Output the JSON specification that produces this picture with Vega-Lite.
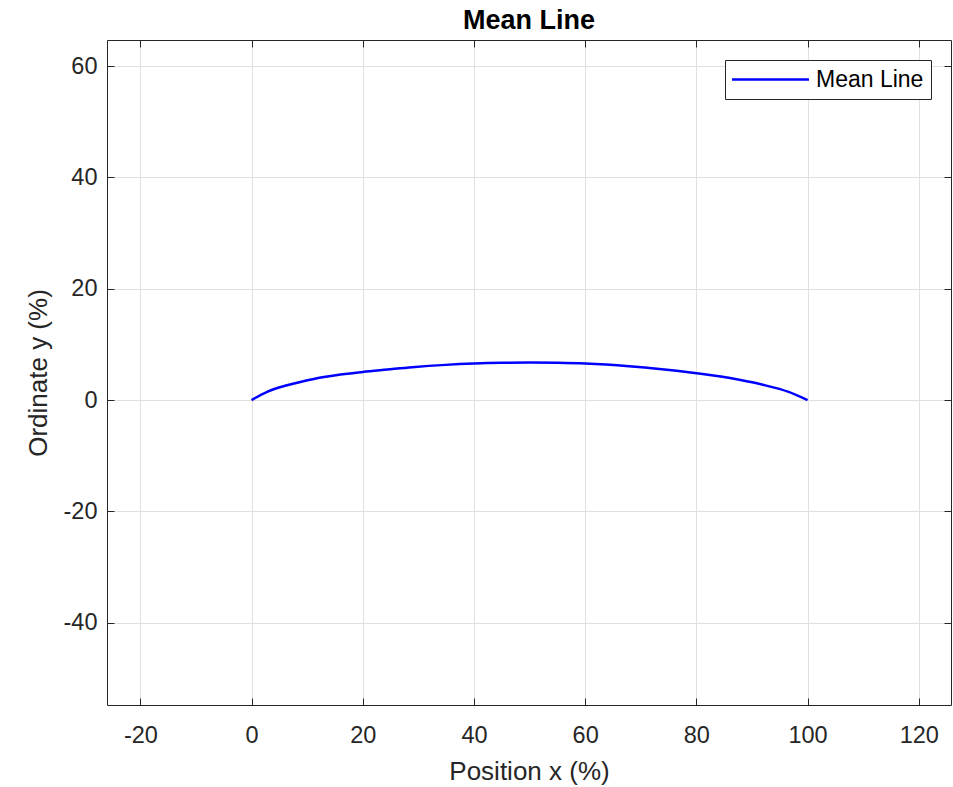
{
  "$schema": "https://vega.github.io/schema/vega-lite/v6.json",
  "width": 844,
  "height": 665,
  "autosize": "none",
  "padding": {"left": 107, "top": 40, "right": 2, "bottom": 82},
  "background": "white",
  "config": {"font": "Liberation Sans", "view": {"stroke": null}},
  "title": {"text": "Mean Line", "fontSize": 27, "fontWeight": "bold", "color": "#000000", "offset": 5, "font": "Liberation Sans", "anchor": "middle"},
  "data": {"values": [
    {"x": 0, "y": 0, "series": "Mean Line"},
    {"x": 2.8, "y": 1.47, "series": "Mean Line"},
    {"x": 6.4, "y": 2.66, "series": "Mean Line"},
    {"x": 11.2, "y": 3.8, "series": "Mean Line"},
    {"x": 16, "y": 4.58, "series": "Mean Line"},
    {"x": 20, "y": 5.06, "series": "Mean Line"},
    {"x": 24.4, "y": 5.48, "series": "Mean Line"},
    {"x": 28.9, "y": 5.9, "series": "Mean Line"},
    {"x": 34.9, "y": 6.32, "series": "Mean Line"},
    {"x": 40, "y": 6.56, "series": "Mean Line"},
    {"x": 45, "y": 6.7, "series": "Mean Line"},
    {"x": 50, "y": 6.75, "series": "Mean Line"},
    {"x": 55, "y": 6.7, "series": "Mean Line"},
    {"x": 60, "y": 6.56, "series": "Mean Line"},
    {"x": 67.9, "y": 6.07, "series": "Mean Line"},
    {"x": 73.8, "y": 5.53, "series": "Mean Line"},
    {"x": 78.6, "y": 5.0, "series": "Mean Line"},
    {"x": 85.8, "y": 3.99, "series": "Mean Line"},
    {"x": 91.8, "y": 2.78, "series": "Mean Line"},
    {"x": 96.6, "y": 1.47, "series": "Mean Line"},
    {"x": 100, "y": 0, "series": "Mean Line"}
  ]},
  "layer": [
    {
      "mark": {"type": "line", "strokeWidth": 2.5, "interpolate": "monotone"},
      "encoding": {
        "x": {"field": "x", "type": "quantitative", "title": "Position x (%)",
          "scale": {"domain": [-26, 125.8], "nice": false, "zero": false},
          "axis": {"orient": "bottom", "values": [-20, 0, 20, 40, 60, 80, 100, 120], "grid": true, "gridColor": "#e0e0e0", "gridWidth": 1,
            "labelExpr": "toString(datum.value)",
            "domainColor": "#262626", "domainWidth": 1, "tickColor": "#262626", "tickSize": -7, "labelPadding": 25,
            "labelFontSize": 23.5, "labelColor": "#262626", "labelFont": "Liberation Sans",
            "titleFontSize": 26, "titleFontWeight": "normal", "titleColor": "#262626", "titleFont": "Liberation Sans", "titlePadding": 12}},
        "y": {"field": "y", "type": "quantitative", "title": "Ordinate y (%)",
          "scale": {"domain": [-54.8, 64.7], "nice": false, "zero": false},
          "axis": {"orient": "left", "values": [-40, -20, 0, 20, 40, 60], "grid": true, "gridColor": "#e0e0e0", "gridWidth": 1,
            "labelExpr": "toString(datum.value)",
            "domainColor": "#262626", "domainWidth": 1, "tickColor": "#262626", "tickSize": -7, "labelPadding": 17,
            "labelFontSize": 23.5, "labelColor": "#262626", "labelFont": "Liberation Sans",
            "titleFontSize": 26, "titleFontWeight": "normal", "titleColor": "#262626", "titleFont": "Liberation Sans", "titlePadding": 12}},
        "color": {"field": "series", "type": "nominal",
          "scale": {"domain": ["Mean Line"], "range": ["#0000ff"]},
          "legend": {"title": null, "orient": "top-right", "offset": 20, "padding": 7,
            "strokeColor": "#262626", "fillColor": "#ffffff", "cornerRadius": 0,
            "symbolType": "M-3.5,0H3.5", "symbolSize": 484, "symbolStrokeWidth": 2.5, "symbolOffset": 26,
            "labelOffset": 33, "labelFontSize": 23, "labelColor": "#000000", "labelFont": "Liberation Sans"}}
      }
    },
    {
      "mark": {"type": "line", "opacity": 0},
      "encoding": {
        "x": {"field": "x", "type": "quantitative",
          "scale": {"domain": [-26, 125.8], "nice": false, "zero": false},
          "axis": {"orient": "top", "values": [-20, 0, 20, 40, 60, 80, 100, 120], "grid": false, "labels": false, "title": null,
            "domainColor": "#262626", "domainWidth": 1, "tickColor": "#262626", "tickSize": -7}},
        "y": {"field": "y", "type": "quantitative",
          "scale": {"domain": [-54.8, 64.7], "nice": false, "zero": false},
          "axis": {"orient": "right", "values": [-40, -20, 0, 20, 40, 60], "grid": false, "labels": false, "title": null,
            "domainColor": "#262626", "domainWidth": 1, "tickColor": "#262626", "tickSize": -7}}
      }
    }
  ],
  "resolve": {"axis": {"x": "independent", "y": "independent"}}
}
